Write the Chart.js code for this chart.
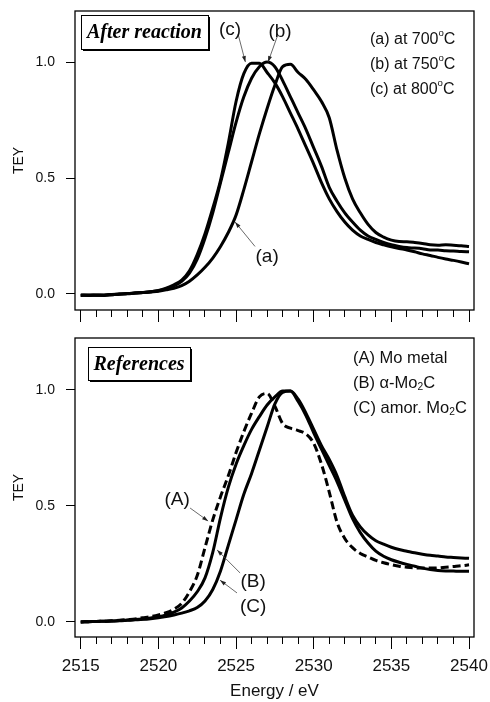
<!DOCTYPE html>
<html>
<head>
<meta charset="utf-8">
<script src="https://cdn.jsdelivr.net/npm/chart.js@4.4.1/dist/chart.umd.min.js"></script>
<style>
  body { margin: 0; background: #fff; }
  #wrap { position: relative; width: 490px; height: 702px; overflow: hidden; }
  canvas { position: absolute; left: 0; }
  #top { top: 0; }
  #bottom { top: 330px; }
</style>
</head>
<body>
<div id="wrap">
  <canvas id="top" width="490" height="330"></canvas>
  <canvas id="bottom" width="490" height="372"></canvas>
</div>
<script>
// photon energy grid (eV)
const energy = [2515, 2515.5, 2516, 2516.5, 2517, 2517.5, 2518, 2518.5, 2519, 2519.5,
  2520, 2520.5, 2521, 2521.5, 2522, 2522.5, 2523, 2523.5, 2524, 2524.5,
  2525, 2525.5, 2526, 2526.5, 2527, 2527.5, 2528, 2528.5, 2529, 2529.5,
  2530, 2530.5, 2531, 2531.5, 2532, 2532.5, 2533, 2533.5, 2534, 2534.5,
  2535, 2535.5, 2536, 2536.5, 2537, 2537.5, 2538, 2538.5, 2539, 2539.5, 2540];

// after reaction
const tey700 = [-0.005, -0.006, -0.004, -0.005, -0.003, -0.001, 0.002, 0.004, 0.006, 0.009,
  0.012, 0.018, 0.025, 0.036, 0.055, 0.082, 0.115, 0.155, 0.205, 0.265,
  0.34, 0.45, 0.57, 0.69, 0.8, 0.9, 0.98, 0.99, 0.955, 0.925,
  0.88, 0.83, 0.76, 0.62, 0.5, 0.41, 0.35, 0.3, 0.265, 0.245,
  0.232, 0.226, 0.225, 0.222, 0.218, 0.212, 0.21, 0.212, 0.21, 0.208, 0.205];
const tey750 = [-0.004, -0.005, -0.005, -0.004, -0.002, 0.0, 0.002, 0.004, 0.007, 0.01,
  0.014, 0.022, 0.035, 0.055, 0.09, 0.15, 0.24, 0.35, 0.48, 0.61,
  0.74, 0.85, 0.93, 0.98, 1.0, 0.98, 0.92, 0.85, 0.78, 0.71,
  0.63, 0.55, 0.46, 0.4, 0.35, 0.31, 0.275, 0.25, 0.235, 0.222,
  0.212, 0.205, 0.2, 0.198, 0.195, 0.19, 0.19, 0.186, 0.185, 0.183, 0.182];
const tey800 = [-0.006, -0.004, -0.005, -0.006, -0.003, 0.0, 0.001, 0.004, 0.006, 0.01,
  0.015, 0.025, 0.04, 0.06, 0.1, 0.17, 0.26, 0.37, 0.49, 0.65,
  0.83, 0.95, 0.995, 0.995, 0.955, 0.91, 0.85, 0.78, 0.71, 0.635,
  0.56, 0.48, 0.41, 0.355, 0.31, 0.275, 0.25, 0.235, 0.222, 0.212,
  0.203, 0.196, 0.19, 0.182, 0.173, 0.166, 0.158, 0.151, 0.145, 0.138, 0.13];

// references
const moMetal = [0, 0.001, 0.002, 0.003, 0.005, 0.007, 0.01, 0.013, 0.018, 0.023,
  0.03, 0.04, 0.055, 0.08, 0.13, 0.2, 0.32, 0.44, 0.54, 0.63,
  0.73, 0.82, 0.9, 0.97, 0.985, 0.93, 0.855, 0.835, 0.825, 0.81,
  0.77, 0.68, 0.56, 0.43, 0.36, 0.32, 0.295, 0.28, 0.265, 0.255,
  0.247, 0.24, 0.236, 0.233, 0.232, 0.232, 0.233, 0.236, 0.239, 0.242, 0.246];
const alphaMo2C = [0, 0.001, 0.002, 0.003, 0.004, 0.006, 0.008, 0.01, 0.013, 0.017,
  0.022, 0.03, 0.042, 0.06, 0.09, 0.13, 0.19, 0.3, 0.45, 0.58,
  0.68, 0.76, 0.83, 0.885, 0.935, 0.97, 0.995, 0.995, 0.96, 0.9,
  0.83, 0.76, 0.7, 0.63, 0.54, 0.46, 0.41, 0.375, 0.35, 0.335,
  0.322, 0.312, 0.305, 0.298, 0.292, 0.287, 0.284, 0.28, 0.278, 0.276, 0.274];
const amorMo2C = [0, 0.001, 0.002, 0.003, 0.004, 0.005, 0.007, 0.009, 0.011, 0.014,
  0.018, 0.023, 0.03, 0.038, 0.048, 0.062, 0.09, 0.14, 0.22, 0.33,
  0.44, 0.55, 0.64, 0.74, 0.84, 0.94, 0.99, 0.995, 0.95, 0.89,
  0.815, 0.745, 0.675, 0.605, 0.525, 0.445, 0.385, 0.34, 0.305, 0.283,
  0.268, 0.257, 0.248, 0.24, 0.232, 0.226, 0.222, 0.22, 0.219, 0.218, 0.218];

const xTicks = [2515, 2516, 2517, 2518, 2519, 2520, 2521, 2522, 2523, 2524, 2525, 2526, 2527,
  2528, 2529, 2530, 2531, 2532, 2533, 2534, 2535, 2536, 2537, 2538, 2539, 2540];
const yTicks = [0, 0.5, 1.0];

const SANS = '"Liberation Sans", Arial, sans-serif';
const SERIF = '"Liberation Serif", "Times New Roman", serif';
const INK = '#111';

function pts(vals) {
  return energy.map((e, i) => ({ x: e, y: vals[i] }));
}

function drawParts(ctx, parts, x, y, size) {
  parts.forEach(p => {
    let fs = size, dy = 0;
    if (p.sup) { fs = size * 0.6; dy = -size * 0.42; }
    if (p.sub) { fs = size * 0.62; dy = size * 0.28; }
    ctx.font = fs + 'px ' + SANS;
    ctx.fillText(p.t, x, y + dy);
    x += ctx.measureText(p.t).width;
  });
}

// frame, boxed title, legend text and arrow labels
const deco = {
  id: 'deco',
  afterDatasetsDraw(chart, args, o) {
    const ctx = chart.ctx, a = chart.chartArea;
    const xs = chart.scales.x, ys = chart.scales.y;
    ctx.save();
    ctx.strokeStyle = '#000';
    ctx.lineWidth = 1.3;
    ctx.strokeRect(a.left, a.top, a.right - a.left, a.bottom - a.top);

    // boxed title
    const b = o.box;
    const bx = a.left + b.dx, by = a.top + b.dy;
    ctx.fillStyle = '#fff';
    ctx.fillRect(bx, by, b.w, b.h);
    ctx.lineWidth = 1;
    ctx.strokeRect(bx + 0.5, by + 0.5, b.w, b.h);
    ctx.fillStyle = '#000';
    ctx.fillRect(bx + b.w, by + 2, 2, b.h);
    ctx.fillRect(bx + 2, by + b.h, b.w, 2);
    ctx.font = 'italic bold 20px ' + SERIF;
    ctx.textAlign = 'center';
    ctx.textBaseline = 'middle';
    ctx.fillText(b.text, bx + b.w / 2, by + b.h / 2 + 1);

    // legend lines
    ctx.textAlign = 'left';
    ctx.fillStyle = INK;
    o.legend.forEach((line, i) => {
      drawParts(ctx, line, a.right - o.legendDx, a.top + o.legendDy + i * 25, o.legendSize);
    });

    // curve labels with arrows
    o.labels.forEach(l => {
      const x1 = xs.getPixelForValue(l.from[0]), y1 = ys.getPixelForValue(l.from[1]);
      const x2 = xs.getPixelForValue(l.to[0]), y2 = ys.getPixelForValue(l.to[1]);
      ctx.strokeStyle = '#444';
      ctx.lineWidth = 0.8;
      ctx.beginPath();
      ctx.moveTo(x1, y1);
      ctx.lineTo(x2, y2);
      ctx.stroke();
      const ang = Math.atan2(y2 - y1, x2 - x1);
      ctx.fillStyle = '#222';
      ctx.beginPath();
      ctx.moveTo(x2, y2);
      ctx.lineTo(x2 - 6 * Math.cos(ang) + 2 * Math.sin(ang), y2 - 6 * Math.sin(ang) - 2 * Math.cos(ang));
      ctx.lineTo(x2 - 6 * Math.cos(ang) - 2 * Math.sin(ang), y2 - 6 * Math.sin(ang) + 2 * Math.cos(ang));
      ctx.closePath();
      ctx.fill();
      ctx.fillStyle = INK;
      ctx.font = '19px ' + SANS;
      ctx.textAlign = 'center';
      ctx.fillText(l.text, xs.getPixelForValue(l.x), ys.getPixelForValue(l.y));
    });
    ctx.restore();
  }
};

function makeChart(id, datasets, o) {
  return new Chart(document.getElementById(id), {
    type: 'line',
    data: { datasets: datasets },
    options: {
      responsive: false,
      animation: false,
      layout: { autoPadding: false, padding: { top: o.padTop, right: 16, left: 0, bottom: 0 } },
      elements: {
        point: { radius: 0 },
        line: { borderWidth: 3, cubicInterpolationMode: 'monotone', borderColor: '#000' }
      },
      plugins: {
        legend: { display: false },
        tooltip: { enabled: false },
        deco: o.deco
      },
      scales: {
        x: {
          type: 'linear',
          min: 2514.63,
          max: 2540.32,
          afterBuildTicks: s => { s.ticks = xTicks.map(v => ({ value: v })); },
          afterFit: s => { s.height = o.xHeight; s.paddingLeft = 0; s.paddingRight = 0; },
          border: { display: false },
          grid: {
            drawOnChartArea: false,
            tickLength: 12,
            tickColor: '#000',
            tickWidth: 1,
            tickBorderDash: c => (c.tick && c.tick.value % 5 !== 0) ? [7, 100] : []
          },
          ticks: {
            display: o.xLabels,
            autoSkip: false,
            maxRotation: 0,
            padding: 7,
            color: INK,
            font: { size: 17, family: SANS },
            callback: v => (v % 5 === 0 ? String(v) : '')
          },
          title: {
            display: o.xLabels,
            text: 'Energy / eV',
            color: INK,
            font: { size: 17, family: SANS },
            padding: { top: 0, bottom: 0 }
          }
        },
        y: {
          min: o.yMin,
          max: o.yMax,
          afterBuildTicks: s => { s.ticks = yTicks.map(v => ({ value: v })); },
          afterFit: s => { s.width = 75; s.paddingTop = 0; s.paddingBottom = 0; },
          border: { display: false },
          grid: { drawOnChartArea: false, tickLength: 9, tickColor: '#000', tickWidth: 1 },
          ticks: {
            padding: 11,
            color: INK,
            font: { size: 14, family: SANS },
            callback: v => v.toFixed(1)
          },
          title: {
            display: true,
            text: 'TEY',
            color: INK,
            font: { size: 14, family: SANS },
            padding: { top: 11, bottom: 0 }
          }
        }
      }
    },
    plugins: [deco]
  });
}

makeChart('top', [
  { label: '(a) at 700°C', data: pts(tey700) },
  { label: '(b) at 750°C', data: pts(tey750) },
  { label: '(c) at 800°C', data: pts(tey800) }
], {
  padTop: 11, xHeight: 20, xLabels: false, yMin: -0.069, yMax: 1.22,
  deco: {
    box: { text: 'After reaction', dx: 6, dy: 4, w: 127, h: 34 },
    legendDx: 104, legendDy: 29, legendSize: 16,
    legend: [
      [{ t: '(a) at 700' }, { t: 'o', sup: true }, { t: 'C' }],
      [{ t: '(b) at 750' }, { t: 'o', sup: true }, { t: 'C' }],
      [{ t: '(c) at 800' }, { t: 'o', sup: true }, { t: 'C' }]
    ],
    labels: [
      { text: '(c)', x: 2524.61, y: 1.138, from: [2525.13, 1.12], to: [2525.6, 1.0] },
      { text: '(b)', x: 2527.83, y: 1.129, from: [2527.64, 1.108], to: [2527.06, 1.0] },
      { text: '(a)', x: 2527.0, y: 0.159, from: [2526.22, 0.205], to: [2524.94, 0.31] }
    ]
  }
});

makeChart('bottom', [
  { label: '(A) Mo metal', data: pts(moMetal), borderDash: [8, 4] },
  { label: '(B) α-Mo2C', data: pts(alphaMo2C) },
  { label: '(C) amor. Mo2C', data: pts(amorMo2C) }
], {
  padTop: 8, xHeight: 65, xLabels: true, yMin: -0.065, yMax: 1.224,
  deco: {
    box: { text: 'References', dx: 13, dy: 9, w: 102, h: 33 },
    legendDx: 121, legendDy: 20, legendSize: 16.5,
    legend: [
      [{ t: '(A) Mo metal' }],
      [{ t: '(B) α-Mo' }, { t: '2', sub: true }, { t: 'C' }],
      [{ t: '(C) amor. Mo' }, { t: '2', sub: true }, { t: 'C' }]
    ],
    labels: [
      { text: '(A)', x: 2521.2, y: 0.526, from: [2522.04, 0.491], to: [2523.2, 0.435] },
      { text: '(B)', x: 2526.1, y: 0.172, from: [2525.26, 0.211], to: [2523.78, 0.31] },
      { text: '(C)', x: 2526.1, y: 0.065, from: [2525.06, 0.125], to: [2523.97, 0.18] }
    ]
  }
});
</script>
</body>
</html>
